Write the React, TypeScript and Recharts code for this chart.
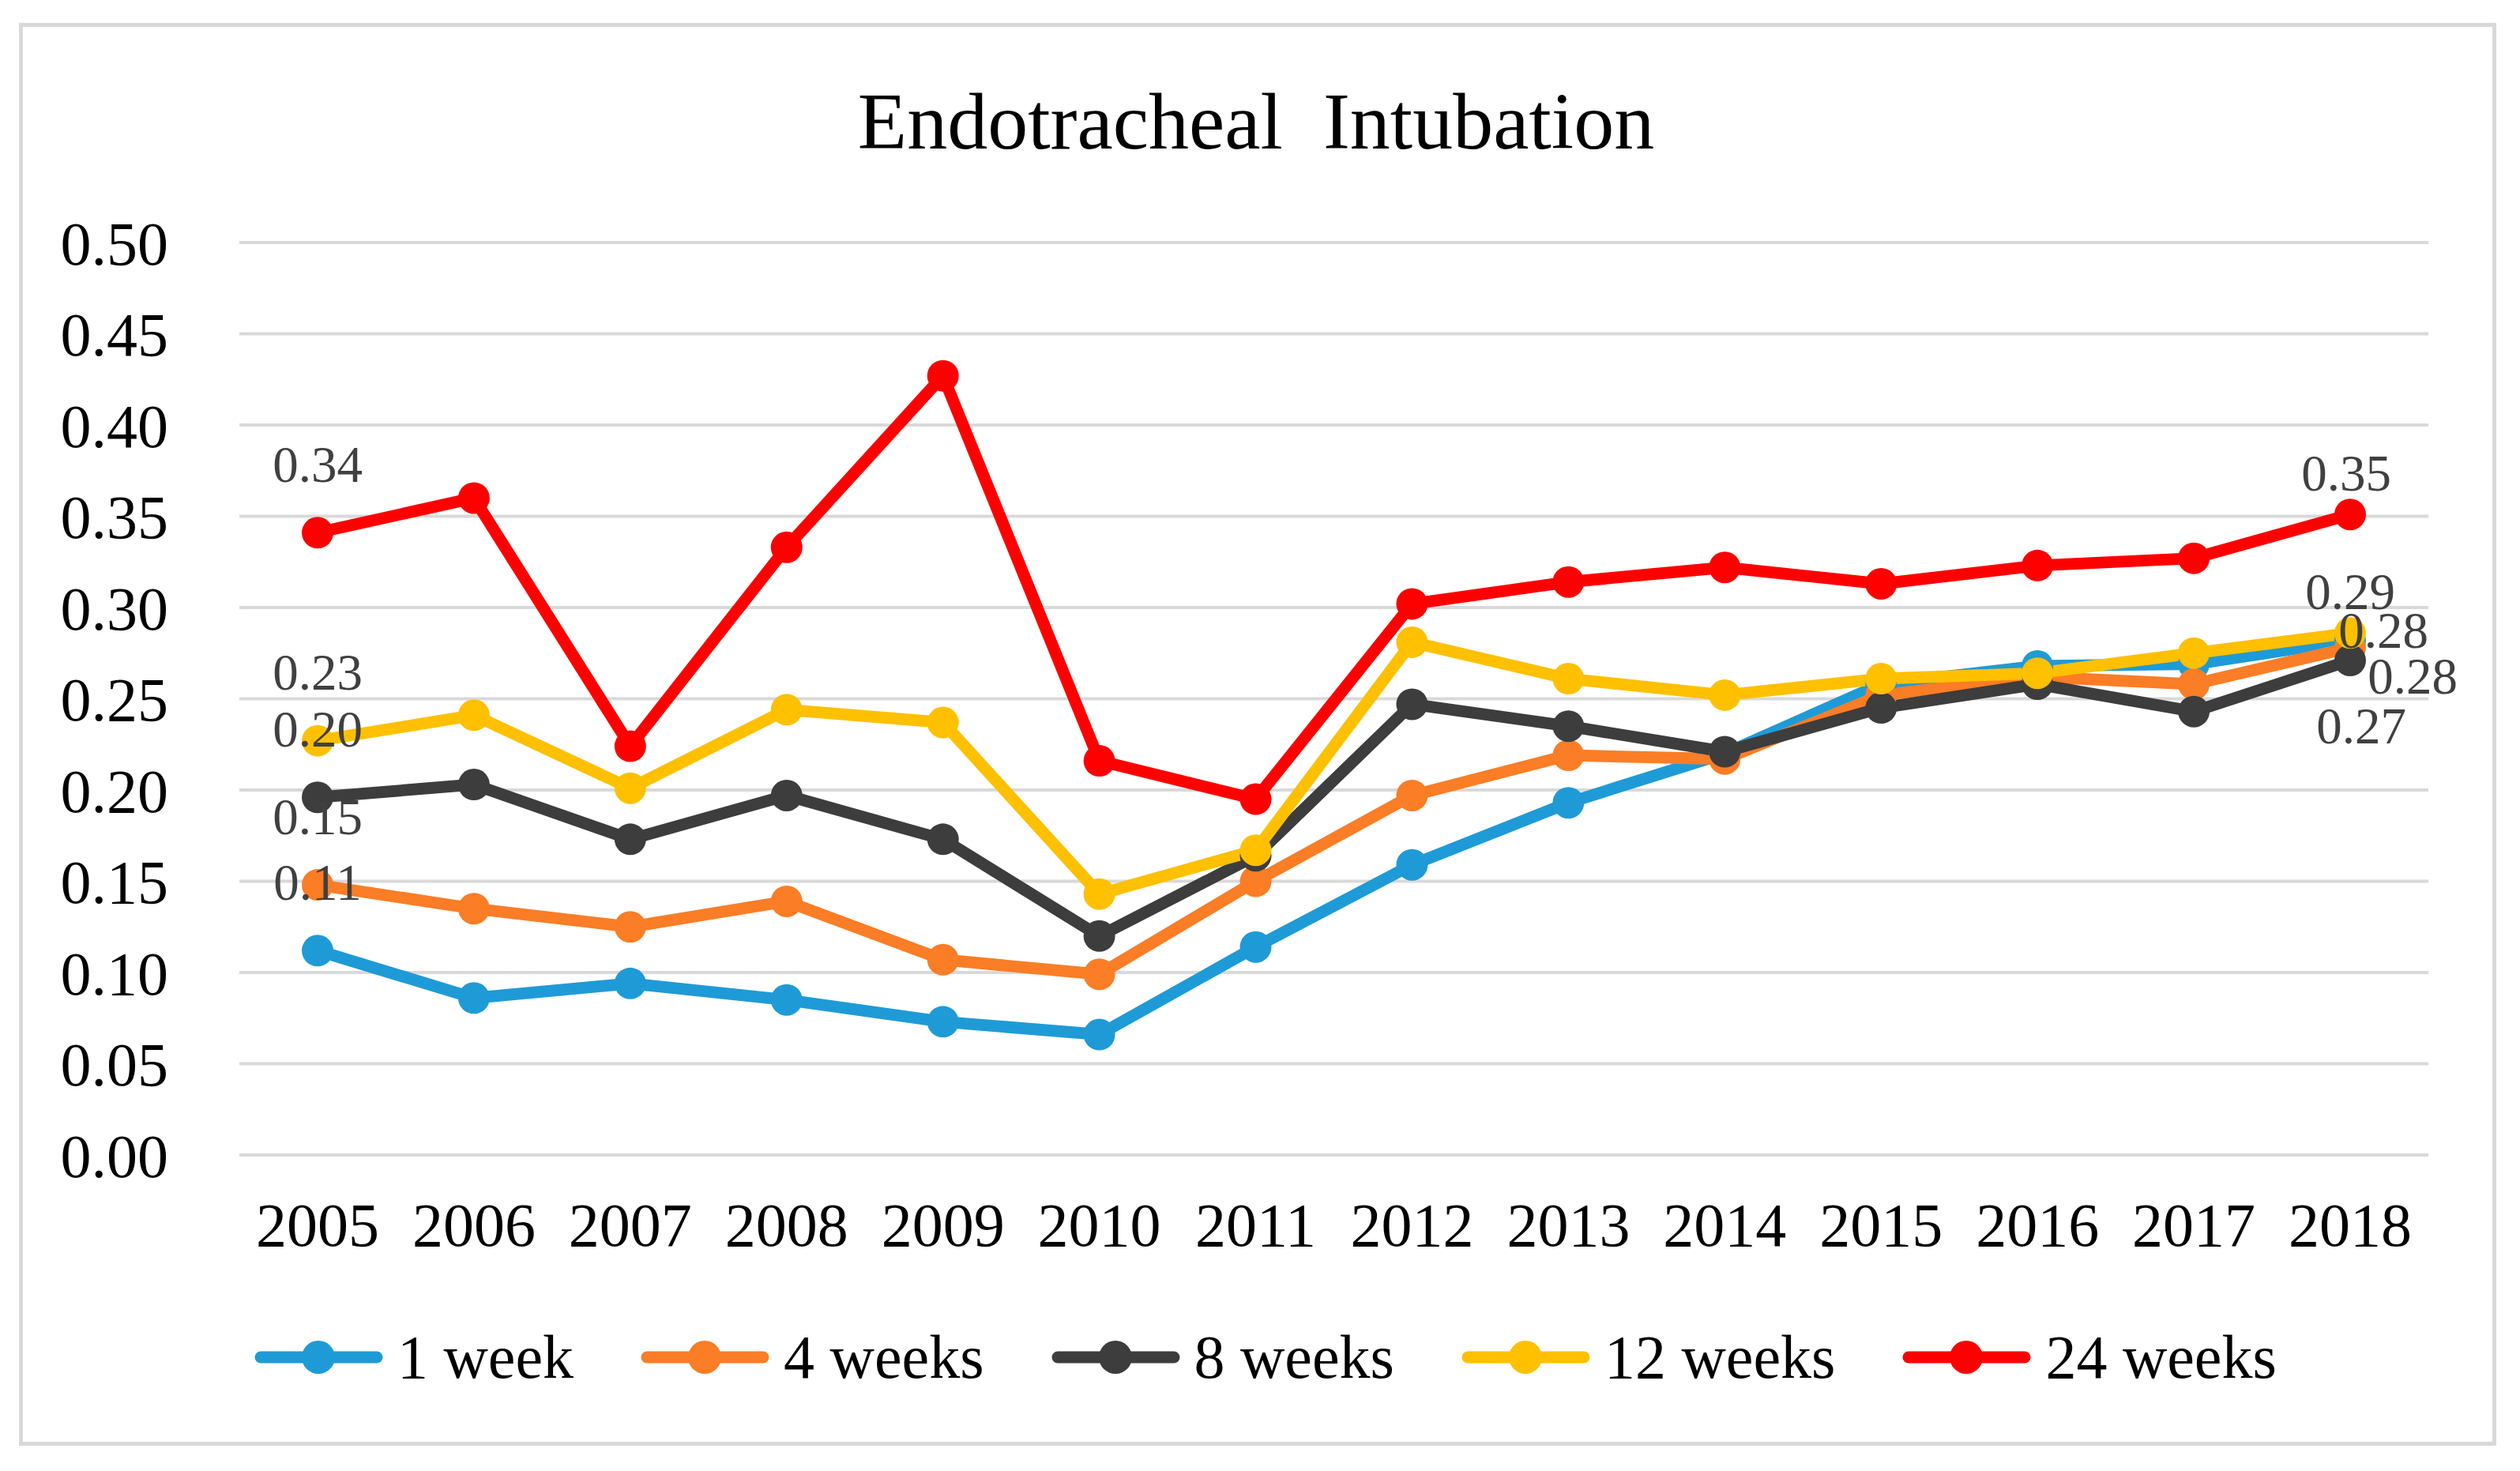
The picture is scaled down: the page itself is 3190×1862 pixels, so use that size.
import { LineChart, Line, XAxis, YAxis, CartesianGrid, Legend, LabelList } from "recharts";

const years = ["2005", "2006", "2007", "2008", "2009", "2010", "2011", "2012", "2013", "2014", "2015", "2016", "2017", "2018"];
const week1 = [0.112, 0.086, 0.094, 0.085, 0.073, 0.066, 0.114, 0.159, 0.193, 0.22, 0.258, 0.268, 0.269, 0.282];
const week4 = [0.148, 0.135, 0.125, 0.139, 0.107, 0.099, 0.15, 0.197, 0.219, 0.217, 0.252, 0.262, 0.258, 0.278];
const week8 = [0.196, 0.203, 0.173, 0.197, 0.173, 0.12, 0.164, 0.247, 0.235, 0.221, 0.245, 0.258, 0.243, 0.271];
const week12 = [0.227, 0.241, 0.201, 0.244, 0.237, 0.143, 0.167, 0.281, 0.261, 0.252, 0.261, 0.264, 0.275, 0.286];
const week24 = [0.341, 0.36, 0.224, 0.333, 0.427, 0.216, 0.195, 0.302, 0.314, 0.322, 0.313, 0.323, 0.327, 0.351];
const yTicks = [0, 0.05, 0.1, 0.15, 0.2, 0.25, 0.3, 0.35, 0.4, 0.45, 0.5];

const series = [
  { key: "w1", name: "1 week", values: week1, color: "#1e9bd7" },
  { key: "w4", name: "4 weeks", values: week4, color: "#fb7d26" },
  { key: "w8", name: "8 weeks", values: week8, color: "#3d3d3d" },
  { key: "w12", name: "12 weeks", values: week12, color: "#ffc000" },
  { key: "w24", name: "24 weeks", values: week24, color: "#ff0000" },
];

const data = years.map((year, i) => {
  const row: Record<string, string | number> = { year };
  series.forEach((s) => {
    row[s.key] = s.values[i];
  });
  return row;
});

// where the end labels sit relative to the last point (dx, dy)
const endOffsets: Record<string, [number, number]> = {
  w1: [42, -13],
  w4: [79, 35],
  w8: [14, 82],
  w12: [0, -53],
  w24: [-5, -53],
};

const FONT = '"Liberation Serif", "Times New Roman", serif';
const W = 3174;
const H = 1846;
const HALF_BAND = 99;

const makeLabel = (key: string) => (props: any) => {
  const { index, value } = props;
  const last = years.length - 1;
  if (index !== 0 && index !== last) return null;
  const x = props.x ?? props.viewBox?.x;
  const y = props.y ?? props.viewBox?.y;
  const [dx, dy] = index === 0 ? [0, -87] : endOffsets[key];
  return (
    <text
      x={x + dx}
      y={y + dy}
      dy="0.35em"
      textAnchor="middle"
      fontFamily={FONT}
      fontSize={65}
      fill="#404040"
    >
      {Number(value).toFixed(2)}
    </text>
  );
};

const renderLegend = () => (
  <div style={{ display: "flex", alignItems: "center", height: 100, gap: 85 }}>
    {series.map((s) => (
      <div key={s.key} style={{ display: "flex", alignItems: "center" }}>
        <svg width={163} height={46}>
          <line x1={8} y1={23} x2={155} y2={23} stroke={s.color} strokeWidth={15} strokeLinecap="round" />
          <circle cx={81} cy={23} r={21} fill={s.color} />
        </svg>
        <span style={{ fontFamily: FONT, fontSize: 78, lineHeight: 1, color: "#000", marginLeft: 18 }}>
          {s.name}
        </span>
      </div>
    ))}
  </div>
);

export default function App() {
  return (
    <div style={{ position: "relative", width: W, height: H, background: "#fff" }}>
      <div
        style={{
          position: "absolute",
          left: 16,
          top: 21,
          width: 3136,
          height: 1801,
          border: "5px solid #d9d9d9",
          boxSizing: "border-box",
        }}
      />
      <div
        style={{
          position: "absolute",
          left: 0,
          top: 95,
          width: 3164,
          textAlign: "center",
          fontFamily: FONT,
          fontSize: 102,
          lineHeight: 1,
          color: "#000",
          whiteSpace: "pre",
        }}
      >
        {"Endotracheal  Intubation"}
      </div>
      <LineChart
        width={W}
        height={H}
        data={data}
        margin={{ top: 299, right: 108, left: 95, bottom: 272 }}
        style={{ position: "absolute", left: 0, top: 0 }}
      >
        <CartesianGrid vertical={false} stroke="#d9d9d9" strokeWidth={4} />
        <XAxis
          dataKey="year"
          axisLine={false}
          tickLine={false}
          tickSize={0}
          tickMargin={60}
          height={120}
          interval={0}
          padding={{ left: HALF_BAND, right: HALF_BAND }}
          tick={{ fontFamily: FONT, fontSize: 78, fill: "#000" }}
        />
        <YAxis
          domain={[0, 0.5]}
          ticks={yTicks}
          width={200}
          axisLine={false}
          tickLine={false}
          tickSize={0}
          tickMargin={90}
          tickFormatter={(v: number) => v.toFixed(2)}
          tick={{ fontFamily: FONT, fontSize: 78, fill: "#000" }}
        />
        <Legend
          layout="horizontal"
          verticalAlign="middle"
          align="center"
          content={renderLegend}
          wrapperStyle={{ top: 1660, left: 314, width: 2800, height: 100 }}
        />
        {series.map((s) => (
          <Line
            key={s.key}
            dataKey={s.key}
            name={s.name}
            stroke={s.color}
            strokeWidth={15}
            strokeLinejoin="round"
            dot={{ r: 20, fill: s.color, stroke: s.color, strokeWidth: 0 }}
            activeDot={false}
            isAnimationActive={false}
          >
            <LabelList dataKey={s.key} content={makeLabel(s.key)} />
          </Line>
        ))}
      </LineChart>
    </div>
  );
}
